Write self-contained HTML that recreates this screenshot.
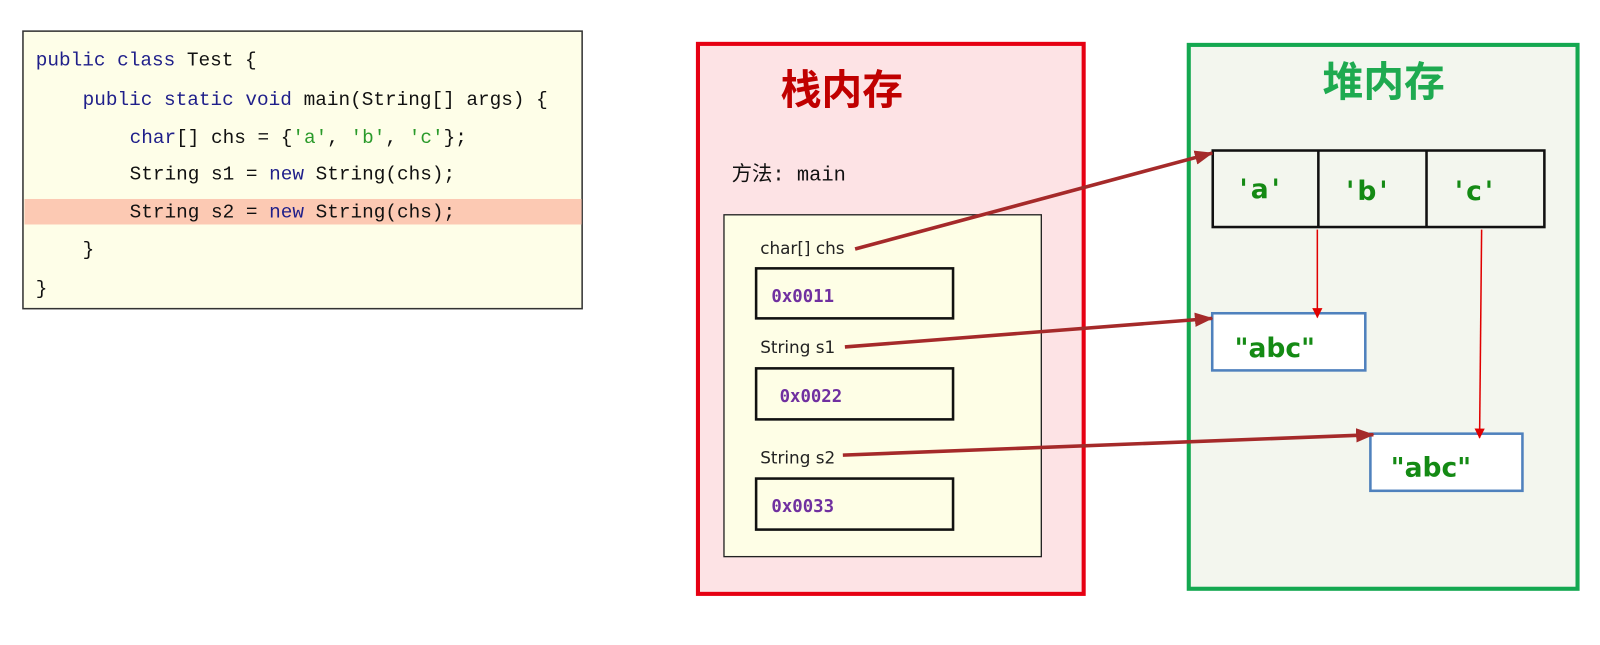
<!DOCTYPE html>
<html><head><meta charset="utf-8"><style>
html,body{margin:0;padding:0;background:#fff;width:1600px;height:645px;overflow:hidden}
svg{display:block}
.code{font-family:"Liberation Mono","DejaVu Sans Mono",monospace;font-size:19px;fill:#111}
.kw{fill:#1f1f8a}
.str{fill:#2a9a2a}
.lbl{font-family:"DejaVu Sans","Liberation Sans",sans-serif;font-size:16.5px;fill:#222}
.addr{font-family:"DejaVu Sans Mono","Liberation Mono",monospace;font-size:17px;font-weight:bold;fill:#7030a0}
.ch{font-family:"DejaVu Sans","Liberation Sans",sans-serif;font-size:26px;font-weight:bold;fill:#148a14}
</style></head><body>
<svg width="1600" height="645" viewBox="0 0 1600 645" xmlns="http://www.w3.org/2000/svg">
<defs>
<marker id="ahr" markerWidth="10" markerHeight="10" refX="9" refY="5" orient="auto" markerUnits="userSpaceOnUse" viewBox="0 0 10 10"><path d="M0,0 L10,5 L0,10 z" fill="#e00000"/></marker>
<marker id="ahb" markerWidth="18" markerHeight="14" refX="17" refY="7" orient="auto" markerUnits="userSpaceOnUse" viewBox="0 0 18 14"><path d="M0,0 L18,7 L0,14 z" fill="#a52a2a"/></marker>
</defs>
<g transform="scale(1.0204)">
<rect x="22.5" y="30.5" width="548" height="272" fill="#fefee8" stroke="#333" stroke-width="1.5"/>
<rect x="24" y="195" width="546" height="25" fill="#fcc9b3"/>
<text class="code" x="35" y="64"><tspan class="kw">public class</tspan> Test {</text>
<text class="code" x="81" y="103"><tspan class="kw">public static void</tspan> main(String[] args) {</text>
<text class="code" x="127" y="140"><tspan class="kw">char</tspan>[] chs = {<tspan class="str">'a'</tspan>, <tspan class="str">'b'</tspan>, <tspan class="str">'c'</tspan>};</text>
<text class="code" x="127" y="176">String s1 = <tspan class="kw">new</tspan> String(chs);</text>
<text class="code" x="127" y="213">String s2 = <tspan class="kw">new</tspan> String(chs);</text>
<text class="code" x="81" y="250">}</text>
<text class="code" x="35" y="288">}</text>
<rect x="684" y="43" width="378" height="539" fill="#fde3e5" stroke="#e60012" stroke-width="4"/>
<text x="825" y="102" text-anchor="middle" font-family="'Noto Sans CJK SC',sans-serif" font-weight="bold" font-size="40" fill="#c00000">栈内存</text>
<text x="717" y="177" font-family="'Liberation Mono','Noto Sans CJK SC',monospace" font-size="20" fill="#111">方法: main</text>
<rect x="709.5" y="210.5" width="311" height="335" fill="#fefee6" stroke="#222" stroke-width="1.3"/>
<text class="lbl" x="745" y="249">char[]  chs</text>
<rect x="741" y="263" width="193" height="49" fill="none" stroke="#111" stroke-width="2.5"/>
<text class="addr" x="756" y="296">0x0011</text>
<text class="lbl" x="745" y="346">String  s1</text>
<rect x="741" y="361" width="193" height="50" fill="none" stroke="#111" stroke-width="2.5"/>
<text class="addr" x="764" y="394">0x0022</text>
<text class="lbl" x="745" y="454">String  s2</text>
<rect x="741" y="469" width="193" height="50" fill="none" stroke="#111" stroke-width="2.5"/>
<text class="addr" x="756" y="502">0x0033</text>
<rect x="1165" y="44" width="381" height="533" fill="#f3f6ee" stroke="#14a850" stroke-width="4"/>
<text x="1356" y="94" text-anchor="middle" font-family="'Noto Sans CJK SC',sans-serif" font-weight="bold" font-size="40" fill="#1eaa50">堆内存</text>
<rect x="1188.5" y="147.5" width="325" height="75" fill="none" stroke="#111" stroke-width="2.5"/>
<line x1="1292" y1="147" x2="1292" y2="223" stroke="#111" stroke-width="2.5"/>
<line x1="1398" y1="147" x2="1398" y2="223" stroke="#111" stroke-width="2.5"/>
<text class="ch" x="1236" y="194" text-anchor="middle" letter-spacing="3">'a'</text>
<text class="ch" x="1341" y="196" text-anchor="middle" letter-spacing="3">'b'</text>
<text class="ch" x="1446" y="196" text-anchor="middle" letter-spacing="3">'c'</text>
<rect x="1188" y="307" width="150" height="56" fill="#fff" stroke="#4f81bd" stroke-width="2.5"/>
<text class="ch" x="1210" y="350">"abc"</text>
<rect x="1343" y="425" width="149" height="56" fill="#fff" stroke="#4f81bd" stroke-width="2.5"/>
<text class="ch" x="1363" y="467">"abc"</text>
<line x1="1291" y1="225" x2="1291" y2="311" stroke="#e00000" stroke-width="1.5" marker-end="url(#ahr)"/>
<line x1="1452" y1="225" x2="1450" y2="429" stroke="#e00000" stroke-width="1.5" marker-end="url(#ahr)"/>
<line x1="838" y1="244" x2="1188" y2="150" stroke="#a52a2a" stroke-width="3.5" marker-end="url(#ahb)"/>
<line x1="828" y1="340" x2="1188" y2="312" stroke="#a52a2a" stroke-width="3.5" marker-end="url(#ahb)"/>
<line x1="826" y1="446" x2="1346" y2="426" stroke="#a52a2a" stroke-width="3.5" marker-end="url(#ahb)"/>
</g>
</svg>
</body></html>
